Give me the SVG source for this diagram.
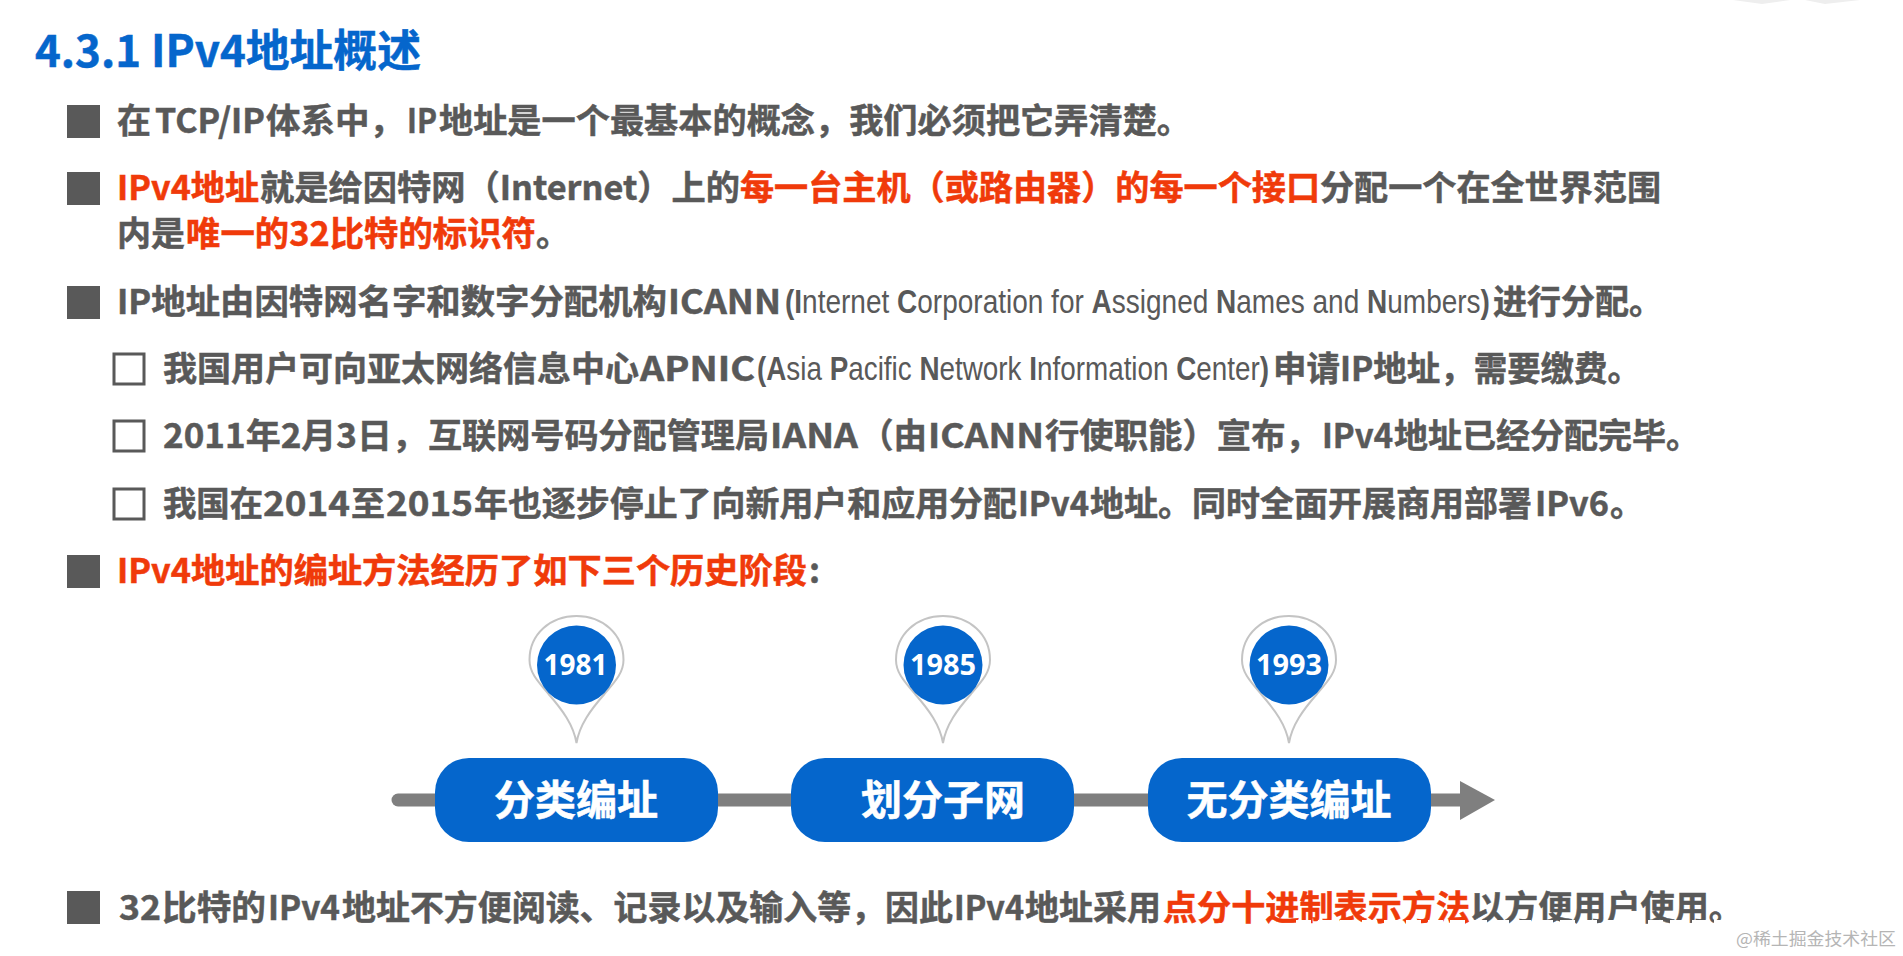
<svg xmlns="http://www.w3.org/2000/svg" width="1903" height="956" viewBox="0 0 1903 956">
<style>
text{font-family:"Noto Sans CJK SC","Noto Sans",sans-serif;font-weight:700;font-size:34px;fill:#595959;stroke:#595959;stroke-width:.5}
.r{fill:#f03a0a;stroke:#f03a0a}
.n{font-family:"Liberation Sans",sans-serif;font-weight:400;font-size:33px;stroke:none}
.n tspan{font-weight:700}
.t{fill:#0566cc;stroke:#0566cc;font-size:44px}
.w{fill:#fff;stroke:#fff;text-anchor:middle}
.y{font-family:"Noto Sans",sans-serif;font-size:28px;font-weight:700;stroke:none}
.s{font-size:41px}
.b{fill:#595959}
.c{fill:#fff;stroke:#595959;stroke-width:3}
.pin{fill:#fff;stroke:#c4c4c4;stroke-width:2}
.d{fill:#0566cc}
</style>
<defs>
<path id="pin" d="M0 83C-3 65-14 50-28 34C-40 20-47 12-47 0C-47-26-26-44 0-44C26-44 47-26 47 0C47 12 40 20 28 34C14 50 3 65 0 83Z"/>
</defs>
<rect width="1903" height="956" fill="#fff"/>
<path d="M1733 0H1790L1762 4ZM1805 0H1860L1825 4Z" fill="#eeeeee"/>
<text class="t" x="35" y="67" textLength="386" lengthAdjust="spacingAndGlyphs">4.3.1 IPv4地址概述</text>

<g id="bullets">
<rect class="b" x="67" y="105" width="33" height="33"/>
<rect class="b" x="67" y="172" width="33" height="33"/>
<rect class="b" x="67" y="286" width="33" height="33"/>
<rect class="b" x="67" y="555" width="33" height="33"/>
<rect class="b" x="67" y="891" width="33" height="33"/>
<rect class="c" x="114" y="354" width="30" height="30"/>
<rect class="c" x="114" y="421" width="30" height="30"/>
<rect class="c" x="114" y="489" width="30" height="30"/>
</g>

<g id="body">
<text x="117" y="133">在</text>
<text x="155" y="133" textLength="110" lengthAdjust="spacingAndGlyphs">TCP/IP</text>
<text x="266" y="133" textLength="138" lengthAdjust="spacingAndGlyphs">体系中，</text>
<text x="407" y="133" textLength="30" lengthAdjust="spacingAndGlyphs">IP</text>
<text x="439" y="133" textLength="752" lengthAdjust="spacingAndGlyphs">地址是一个最基本的概念，我们必须把它弄清楚。</text>

<text x="117" y="200" class="r" textLength="142" lengthAdjust="spacingAndGlyphs">IPv4地址</text>
<text x="260" y="200" textLength="480" lengthAdjust="spacingAndGlyphs">就是给因特网（Internet）上的</text>
<text x="740" y="200" class="r" textLength="580" lengthAdjust="spacingAndGlyphs">每一台主机（或路由器）的每一个接口</text>
<text x="1320" y="200" textLength="341" lengthAdjust="spacingAndGlyphs">分配一个在全世界范围</text>
<text x="117" y="246">内是</text>
<text x="186" y="246" class="r" textLength="350" lengthAdjust="spacingAndGlyphs">唯一的32比特的标识符</text>
<text x="536" y="246">。</text>

<text x="117" y="314" textLength="550" lengthAdjust="spacingAndGlyphs">IP地址由因特网名字和数字分配机构</text>
<text x="668" y="314" textLength="113" lengthAdjust="spacingAndGlyphs">ICANN</text>
<text class="n" transform="translate(785 313) scale(.8486 1)"><tspan>(I</tspan>nternet <tspan>C</tspan>orporation for <tspan>A</tspan>ssigned <tspan>N</tspan>ames and <tspan>N</tspan>umbers<tspan>)</tspan></text>
<text x="1493" y="314" textLength="170" lengthAdjust="spacingAndGlyphs">进行分配。</text>

<text x="163" y="381" textLength="476" lengthAdjust="spacingAndGlyphs">我国用户可向亚太网络信息中心</text>
<text x="640" y="381" textLength="115" lengthAdjust="spacingAndGlyphs">APNIC</text>
<text class="n" transform="translate(757 380) scale(.844 1)"><tspan>(A</tspan>sia <tspan>P</tspan>acific <tspan>N</tspan>etwork <tspan>I</tspan>nformation <tspan>C</tspan>enter<tspan>)</tspan></text>
<text x="1273" y="381" textLength="368" lengthAdjust="spacingAndGlyphs">申请IP地址，需要缴费。</text>

<text x="163" y="448" textLength="264" lengthAdjust="spacingAndGlyphs">2011年2月3日，</text>
<text x="428" y="448" textLength="341" lengthAdjust="spacingAndGlyphs">互联网号码分配管理局</text>
<text x="770" y="448" textLength="88" lengthAdjust="spacingAndGlyphs">IANA</text>
<text x="860" y="448" textLength="67" lengthAdjust="spacingAndGlyphs">（由</text>
<text x="928" y="448" textLength="116" lengthAdjust="spacingAndGlyphs">ICANN</text>
<text x="1045" y="448" textLength="275" lengthAdjust="spacingAndGlyphs">行使职能）宣布，</text>
<text x="1322" y="448" textLength="71" lengthAdjust="spacingAndGlyphs">IPv4</text>
<text x="1394" y="448" textLength="306" lengthAdjust="spacingAndGlyphs">地址已经分配完毕。</text>

<text x="163" y="516" textLength="100" lengthAdjust="spacingAndGlyphs">我国在</text>
<text x="263" y="516" textLength="87" lengthAdjust="spacingAndGlyphs">2014</text>
<text x="351" y="516">至</text>
<text x="386" y="516" textLength="87" lengthAdjust="spacingAndGlyphs">2015</text>
<text x="474" y="516" textLength="543" lengthAdjust="spacingAndGlyphs">年也逐步停止了向新用户和应用分配</text>
<text x="1018" y="516" textLength="71" lengthAdjust="spacingAndGlyphs">IPv4</text>
<text x="1090" y="516" textLength="442" lengthAdjust="spacingAndGlyphs">地址。同时全面开展商用部署</text>
<text x="1535" y="516" textLength="74" lengthAdjust="spacingAndGlyphs">IPv6</text>
<text x="1610" y="516">。</text>

<text x="117" y="583" class="r" textLength="690" lengthAdjust="spacingAndGlyphs">IPv4地址的编址方法经历了如下三个历史阶段</text>
<text x="809" y="583">:</text>

<text x="119" y="920" textLength="42" lengthAdjust="spacingAndGlyphs">32</text>
<text x="162" y="920" textLength="104" lengthAdjust="spacingAndGlyphs">比特的</text>
<text x="268" y="920" textLength="72" lengthAdjust="spacingAndGlyphs">IPv4</text>
<text x="342" y="920" textLength="611" lengthAdjust="spacingAndGlyphs">地址不方便阅读、记录以及输入等，因此</text>
<text x="954" y="920" textLength="70" lengthAdjust="spacingAndGlyphs">IPv4</text>
<text x="1025" y="920" textLength="136" lengthAdjust="spacingAndGlyphs">地址采用</text>
<text x="1163" y="920" class="r" textLength="307" lengthAdjust="spacingAndGlyphs">点分十进制表示方法</text>
<text x="1470" y="920" textLength="273" lengthAdjust="spacingAndGlyphs">以方便用户使用。</text>
<path d="M1296 922.5H1722" stroke="#fff" stroke-width="5" stroke-dasharray="15 7" fill="none"/>
</g>

<g id="connectors">
<path d="M398 800H1470" stroke="#7f7f7f" stroke-width="13" stroke-linecap="round" fill="none"/>
<path d="M1460 781L1495 800L1460 820Z" fill="#7f7f7f"/>
</g>

<g id="node-1981">
<use href="#pin" class="pin" x="576.5" y="660"/>
<circle class="d" cx="576.5" cy="665" r="39.5"/>
<text class="w y" x="575.5" y="675" textLength="64" lengthAdjust="spacingAndGlyphs">1981</text>
</g>
<g id="node-1985">
<use href="#pin" class="pin" x="943" y="660"/>
<circle class="d" cx="943" cy="665" r="39.5"/>
<text class="w y" x="943" y="675" textLength="66" lengthAdjust="spacingAndGlyphs">1985</text>
</g>
<g id="node-1993">
<use href="#pin" class="pin" x="1289" y="660"/>
<circle class="d" cx="1289" cy="665" r="39.5"/>
<text class="w y" x="1289" y="675" textLength="66" lengthAdjust="spacingAndGlyphs">1993</text>
</g>
<g id="node-classful">
<rect class="d" x="435" y="758" width="283" height="84" rx="34"/>
<text class="w s" x="576" y="815">分类编址</text>
</g>
<g id="node-subnet">
<rect class="d" x="791" y="758" width="283" height="84" rx="34"/>
<text class="w s" x="943" y="815">划分子网</text>
</g>
<g id="node-cidr">
<rect class="d" x="1148" y="758" width="283" height="84" rx="34"/>
<text class="w s" x="1289" y="815">无分类编址</text>
</g>

<text x="1736" y="945" style="font-weight:400;font-size:17px;fill:#b5b5b5;stroke:none" textLength="160" lengthAdjust="spacingAndGlyphs">@稀土掘金技术社区</text>
</svg>
